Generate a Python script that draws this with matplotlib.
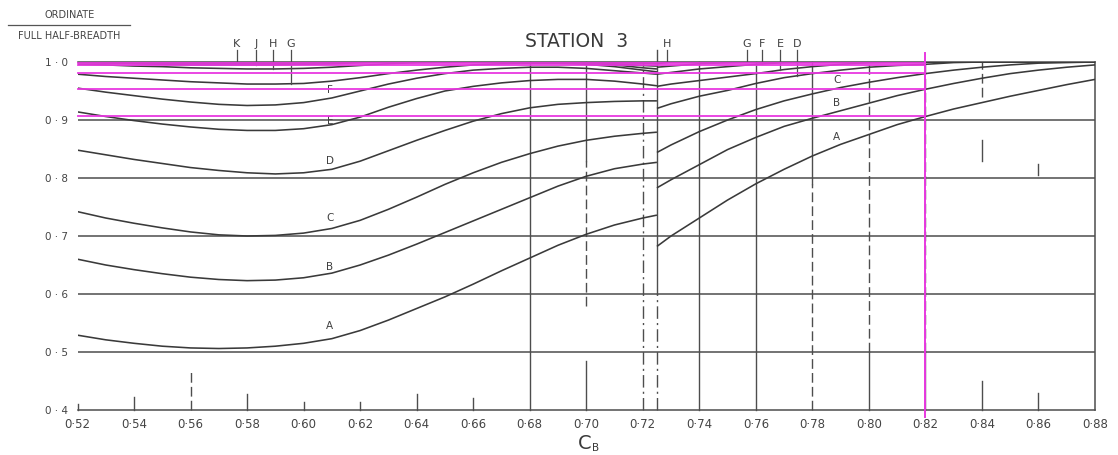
import numpy as np
import matplotlib
matplotlib.use("Agg")
import matplotlib.pyplot as plt
from matplotlib.lines import Line2D

# ---------------- data ----------------
# block coefficient grid, left and right of the break at C_B = 0.725
cb_left = [0.52, 0.53, 0.54, 0.55, 0.56, 0.57, 0.58, 0.59, 0.60, 0.61, 0.62,
           0.63, 0.64, 0.65, 0.66, 0.67, 0.68, 0.69, 0.70, 0.71, 0.72, 0.725]
cb_right = [0.725, 0.73, 0.74, 0.75, 0.76, 0.77, 0.78, 0.79, 0.80, 0.81,
            0.82, 0.83, 0.84, 0.85, 0.86, 0.87, 0.88]

# ordinate / full half-breadth, waterline curves (left branch)
a_left = [0.529, 0.521, 0.515, 0.510, 0.507, 0.506, 0.507, 0.510, 0.515, 0.523, 0.537,
          0.555, 0.575, 0.595, 0.617, 0.640, 0.662, 0.684, 0.703, 0.719, 0.731, 0.736]
b_left = [0.660, 0.650, 0.642, 0.635, 0.629, 0.625, 0.623, 0.624, 0.628, 0.636, 0.650,
          0.667, 0.686, 0.706, 0.726, 0.746, 0.766, 0.786, 0.803, 0.816, 0.824, 0.827]
c_left = [0.742, 0.731, 0.722, 0.714, 0.707, 0.702, 0.700, 0.701, 0.705, 0.713, 0.727,
          0.746, 0.767, 0.789, 0.809, 0.827, 0.842, 0.855, 0.865, 0.872, 0.877, 0.879]
d_left = [0.848, 0.840, 0.832, 0.825, 0.818, 0.813, 0.809, 0.807, 0.809, 0.815, 0.829,
          0.847, 0.865, 0.882, 0.898, 0.911, 0.921, 0.927, 0.930, 0.932, 0.933, 0.933]
e_left = [0.914, 0.906, 0.899, 0.893, 0.888, 0.884, 0.882, 0.882, 0.885, 0.892, 0.905,
          0.922, 0.937, 0.950, 0.958, 0.964, 0.968, 0.970, 0.970, 0.967, 0.962, 0.959]
f_left = [0.955, 0.948, 0.942, 0.936, 0.931, 0.927, 0.925, 0.926, 0.930, 0.938, 0.950,
          0.962, 0.972, 0.980, 0.986, 0.989, 0.991, 0.991, 0.989, 0.985, 0.981, 0.979]
g_left = [0.979, 0.975, 0.972, 0.969, 0.966, 0.964, 0.962, 0.962, 0.963, 0.967, 0.973,
          0.980, 0.986, 0.991, 0.995, 0.997, 0.998, 0.998, 0.996, 0.992, 0.986, 0.983]
h_left = [0.996, 0.995, 0.993, 0.992, 0.990, 0.989, 0.988, 0.988, 0.989, 0.991, 0.994,
          0.997, 0.999, 1.000, 1.000, 1.000, 1.000, 1.000, 0.998, 0.995, 0.990, 0.988]
j_left = [0.999, 0.998, 0.997, 0.996, 0.995, 0.995, 0.995, 0.995, 0.996, 0.997, 0.999,
          1.000, 1.000, 1.000, 1.000, 1.000, 1.000, 1.000, 0.999, 0.997, 0.994, 0.993]
k_left = [1.000, 0.999, 0.998, 0.998, 0.998, 0.998, 0.998, 0.998, 0.998, 0.999, 1.000,
          1.000, 1.000, 1.000, 1.000, 1.000, 1.000, 1.000, 1.000, 0.999, 0.998, 0.997]

# waterline curves (right branch)
a_right = [0.682, 0.700, 0.731, 0.762, 0.790, 0.815, 0.838, 0.858, 0.875,
           0.892, 0.906, 0.919, 0.930, 0.941, 0.951, 0.961, 0.970]
b_right = [0.783, 0.797, 0.823, 0.849, 0.870, 0.889, 0.903, 0.916, 0.929,
           0.942, 0.953, 0.963, 0.972, 0.980, 0.986, 0.991, 0.995]
c_right = [0.844, 0.857, 0.880, 0.900, 0.918, 0.933, 0.945, 0.956, 0.965,
           0.973, 0.980, 0.986, 0.991, 0.995, 0.998, 0.999, 1.000]
d_right = [0.920, 0.928, 0.941, 0.951, 0.963, 0.973, 0.980, 0.986, 0.991,
           0.994, 0.996, 0.999, 1.000, 1.000, 1.000, 1.000, 1.000]
e_right = [0.958, 0.962, 0.968, 0.974, 0.980, 0.987, 0.992, 0.996, 0.999,
           1.000, 1.000, 1.000, 1.000, 1.000, 1.000, 1.000, 1.000]
f_right = [0.979, 0.982, 0.988, 0.992, 0.996, 0.999, 1.000, 1.000, 1.000,
           1.000, 1.000, 1.000, 1.000, 1.000, 1.000, 1.000, 1.000]
g_right = [0.991, 0.993, 0.997, 0.999, 1.000, 1.000, 1.000, 1.000, 1.000,
           1.000, 1.000, 1.000, 1.000, 1.000, 1.000, 1.000, 1.000]
h_right = [0.997, 1.000, 1.000, 1.000, 1.000, 1.000, 1.000, 1.000, 1.000,
           1.000, 1.000, 1.000, 1.000, 1.000, 1.000, 1.000, 1.000]

# read-off lines at C_B = 0.82
readoff_cb = 0.82
readoff_values = [0.999, 0.9955, 0.981, 0.954, 0.907]

x_ticks = [0.52, 0.54, 0.56, 0.58, 0.60, 0.62, 0.64, 0.66, 0.68, 0.70,
           0.72, 0.74, 0.76, 0.78, 0.80, 0.82, 0.84, 0.86, 0.88]
x_tick_labels = ["0·52", "0·54", "0·56", "0·58", "0·60", "0·62", "0·64",
                 "0·66", "0·68", "0·70", "0·72", "0·74", "0·76", "0·78",
                 "0·80", "0·82", "0·84", "0·86", "0·88"]
y_ticks = [0.4, 0.5, 0.6, 0.7, 0.8, 0.9, 1.0]
y_tick_labels = ["0 · 4", "0 · 5", "0 · 6", "0 · 7", "0 · 8", "0 · 9", "1 · 0"]

left_curves = {"A": a_left, "B": b_left, "C": c_left, "D": d_left, "E": e_left,
               "F": f_left, "G": g_left, "H": h_left, "J": j_left, "K": k_left}
right_curves = {"A": a_right, "B": b_right, "C": c_right, "D": d_right,
                "E": e_right, "F": f_right, "G": g_right, "H": h_right}

# ---------------- figure ----------------
W, H = 1118, 455
fig = plt.figure(figsize=(W / 100, H / 100), dpi=100)
fig.patch.set_facecolor("white")
ax = fig.add_axes([77.5 / W, 45 / H, (1095 - 77.5) / W, 348 / H])
ax.set_xlim(0.52, 0.88)
ax.set_ylim(0.4, 1.0)

INK = "#3a3a3a"
GRID = "#4d4d4d"
MAG = "#e838e0"
FONT = "DejaVu Sans"

ax.spines["left"].set_visible(False)
for side in ("top", "right", "bottom"):
    ax.spines[side].set_color(GRID)
    ax.spines[side].set_linewidth(1.1)

ax.set_xticks(x_ticks)
ax.set_xticklabels(x_tick_labels, fontsize=8.5, color="#444444", family=FONT)
ax.set_yticks(y_ticks)
ax.set_yticklabels(y_tick_labels, fontsize=7.5, color="#444444", family=FONT)
ax.tick_params(axis="both", length=0)
ax.tick_params(axis="x", pad=6)
ax.tick_params(axis="y", pad=7)

# horizontal grid lines
for v in [0.5, 0.6, 0.7, 0.8, 0.9]:
    ax.plot([0.52, 0.88], [v, v], color=GRID, lw=1.1, zorder=1)

# vertical guide lines: (x, y0, y1, style)
dash = (0, (7, 3))
dashdot = (0, (9, 3, 1.5, 3))
guides = [
    (0.52, 0.40, 0.41, "-"), (0.54, 0.40, 0.422, "-"), (0.56, 0.40, 0.466, dash),
    (0.58, 0.40, 0.428, "-"), (0.60, 0.40, 0.414, "-"), (0.62, 0.40, 0.414, "-"),
    (0.64, 0.40, 0.428, "-"), (0.66, 0.40, 0.420, "-"),
    (0.68, 0.40, 1.00, "-"),
    (0.70, 0.40, 0.484, "-"), (0.70, 0.58, 0.83, dash), (0.70, 0.83, 1.00, "-"),
    (0.72, 0.40, 1.00, dashdot),
    (0.725, 0.40, 0.60, dashdot), (0.725, 0.60, 1.021, "-"),
    (0.74, 0.40, 1.00, "-"), (0.76, 0.40, 1.00, "-"),
    (0.78, 0.40, 0.79, dash), (0.78, 0.79, 1.00, "-"),
    (0.80, 0.40, 0.50, "-"), (0.80, 0.50, 1.00, dash),
    (0.82, 0.40, 0.50, "-"), (0.82, 0.50, 1.00, dash),
    (0.84, 0.40, 0.45, "-"), (0.84, 0.83, 0.865, "-"), (0.84, 0.94, 1.00, dash),
    (0.86, 0.40, 0.43, "-"), (0.86, 0.805, 0.825, "-"),
]
for x, y0, y1, ls in guides:
    ax.plot([x, x], [y0, y1], color=GRID, lw=1.0, ls=ls, zorder=1,
            clip_on=False)

# curves
for vals in left_curves.values():
    ax.plot(cb_left, vals, color=INK, lw=1.15, zorder=3, solid_capstyle="butt")
for vals in right_curves.values():
    ax.plot(cb_right, vals, color=INK, lw=1.15, zorder=3, solid_capstyle="butt")

# curve labels
lab_kw = dict(fontsize=7.5, color="#404040", ha="center", va="center",
              family=FONT, zorder=4)
left_label_pos = {"A": 0.545, "B": 0.6465, "C": 0.731, "D": 0.829,
                  "E": 0.899, "F": 0.952}
for name, v in left_label_pos.items():
    ax.text(0.6093, v, name, **lab_kw)
right_label_pos = {"C": 0.969, "B": 0.929, "A": 0.870}
for name, v in right_label_pos.items():
    ax.text(0.7887, v, name, **lab_kw)

# leader letters above the top line
top_left = {"K": 0.5764, "J": 0.5832, "H": 0.5892, "G": 0.5955}
top_right = {"H": 0.7286, "G": 0.7569, "F": 0.7622, "E": 0.7686, "D": 0.7746}
for group, curves, grid in ((top_left, left_curves, cb_left),
                            (top_right, right_curves, cb_right)):
    for name, x in group.items():
        ax.text(x, 1.031, name, fontsize=8, color="#404040", ha="center",
                va="center", family=FONT, clip_on=False)
        yend = float(np.interp(x, grid, curves[name]))
        ax.plot([x, x], [1.0215, yend], color=GRID, lw=0.9, clip_on=False,
                zorder=3)

# read-off lines
for v in readoff_values:
    ax.plot([0.52, readoff_cb], [v, v], color=MAG, lw=1.3, zorder=5,
            clip_on=False)
ax.plot([readoff_cb, readoff_cb], [0.388, 1.015], color=MAG, lw=1.4, zorder=5,
        clip_on=False)

# titles and axis captions
ax.text(0.6967, 1.0345, "STATION  3", fontsize=13.5, color="#3a3a3a",
        ha="center", va="center", family=FONT, clip_on=False)
ax.text(0.6996, 0.3330, "C", fontsize=14, color="#3a3a3a",
        ha="center", va="baseline", family=FONT, clip_on=False)
ax.text(0.7022, 0.3285, "B", fontsize=7.5, color="#3a3a3a",
        ha="left", va="baseline", family=FONT, clip_on=False)

fig.text(69.5 / W, 1 - 15.5 / H, "ORDINATE", fontsize=7, color="#444444",
         ha="center", va="center", family=FONT)
fig.add_artist(Line2D([8 / W, 130 / W], [1 - 25 / H, 1 - 25 / H],
                      color="#555555", lw=0.9))
fig.text(69 / W, 1 - 36 / H, "FULL HALF-BREADTH", fontsize=7,
         color="#444444", ha="center", va="center", family=FONT)

fig.savefig("out.png", dpi=100, facecolor="white")
